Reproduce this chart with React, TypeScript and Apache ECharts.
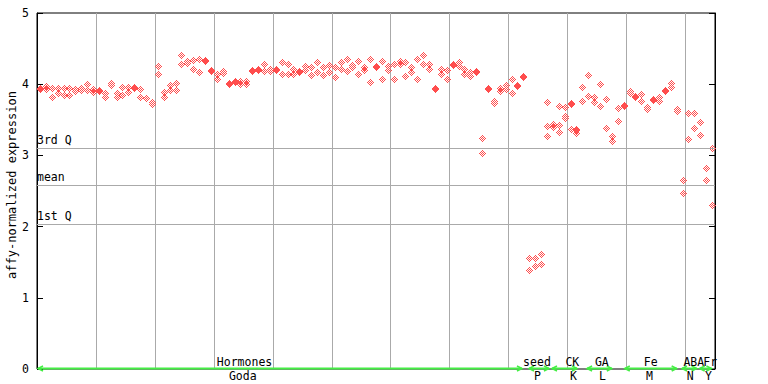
import React, { useEffect, useRef } from 'react';
import * as echarts from 'echarts';

// Experiment groups along the bottom axis
const categoryNames = ['Hormones', 'seed', 'CK', 'GA', 'Fe', 'ABA', 'Fr'];
const categoryCodes = ['Goda', 'P', 'K', 'L', 'M', 'N', 'Y'];
const arrowStart = [0.17, 83.45, 87.35, 93.3, 99.7, 109.4, 112.4];
const arrowEnd = [82.26, 86.84, 91.6, 97.5, 108.5, 111.9, 114.4];
const nameCenter = [35.2, 84.8, 90.8, 95.8, 104.1, 111.4, 114.2];
const codeCenter = [34.9, 84.9, 91.0, 95.9, 103.9, 110.8, 113.9];

// Replicate values per sample, grouped by experiment
const hormones = [
  [3.94, 3.926], [3.98, 3.93], [3.94, 3.82], [3.94, 3.88], [3.94, 3.85],
  [3.94, 3.85], [3.93, 3.90], [3.94, 3.92], [4.00, 3.92], [3.93, 3.89],
  [3.914, 3.90], [3.88, 3.82], [4.02, 3.99], [3.88, 3.82], [3.96, 3.85],
  [3.96, 3.89], [3.96, 3.94], [3.93, 3.82], [3.81, 3.80], [3.75, 3.72],
  [4.25, 4.14], [3.89, 3.82], [3.99, 3.92], [4.01, 3.92], [4.41, 4.28],
  [4.32, 4.30], [4.34, 4.21], [4.36, 4.17], [4.34, 4.32], [4.20, 4.19],
  [4.15, 4.08], [4.19, 4.16], [4.02, 4.006], [4.05, 4.03], [4.05, 4.00],
  [4.05, 4.00], [4.20, 4.186], [4.214, 4.20], [4.28, 4.18], [4.22, 4.18],
  [4.22, 4.20], [4.31, 4.15], [4.29, 4.15], [4.22, 4.15], [4.18, 4.166],
  [4.26, 4.20], [4.24, 4.13], [4.31, 4.17], [4.24, 4.13], [4.27, 4.17],
  [4.24, 4.10], [4.31, 4.21], [4.36, 4.18], [4.27, 4.24], [4.32, 4.14],
  [4.24, 4.20], [4.36, 4.03], [4.25, 4.236], [4.32, 4.07], [4.25, 4.20],
  [4.29, 4.07], [4.33, 4.29], [4.31, 4.11], [4.24, 4.17], [4.36, 4.08],
  [4.41, 4.28], [4.29, 4.21], [3.95, 3.936], [4.22, 4.15], [4.20, 4.08],
  [4.29, 4.27], [4.31, 4.25], [4.21, 4.14], [4.17, 4.11], [4.19, 4.176],
  [3.25, 3.03], [3.95, 3.936], [3.76, 3.73], [3.95, 3.90], [3.99, 3.93],
  [4.08, 3.87], [3.99, 3.976], [4.11, 4.096],
];
const seed = [[1.56, 1.39], [1.56, 1.44], [1.61, 1.47], [3.75, 3.41, 3.27]];
const ck = [[3.44, 3.40], [3.69, 3.42, 3.33], [3.68, 3.56, 3.52], [3.73, 3.716, 3.37], [3.37, 3.356, 3.32], [3.96, 3.77]];
const ga = [[4.13, 3.84], [3.82, 3.75], [4.00, 3.70], [3.79, 3.38], [3.27, 3.20], [3.66, 3.48]];
const fe = [[3.71, 3.70], [3.91, 3.87], [3.83, 3.816], [3.86, 3.77], [3.68, 3.65], [3.79, 3.776], [3.82, 3.77], [3.914, 3.91], [4.01, 3.96], [3.65, 3.62]];
const aba = [[2.65, 2.47], [3.59, 3.23], [3.59, 3.38]];
const fr = [[3.47, 3.28], [2.82, 2.65], [3.10, 2.30]];

const quartileNames = ['3rd Q', 'mean', '1st Q'];
const quartileValues = [3.10, 2.58, 2.03];

const FONT = '"DejaVu Sans Mono", monospace';
const RED = '#ff4d4d';
const GREEN = '#44ee44';

export default function App() {
  const ref = useRef<HTMLDivElement>(null);
  useEffect(() => {
    if (!ref.current) return;
    const chart = echarts.init(ref.current, undefined, { renderer: 'svg' });

    // checkered diamond marker (pixel art)
    const cv = document.createElement('canvas');
    cv.width = 7;
    cv.height = 7;
    const ctx = cv.getContext('2d')!;
    ctx.fillStyle = RED;
    for (let i = 0; i < 7; i++) {
      for (let j = 0; j < 7; j++) {
        const d = Math.abs(i - 3) + Math.abs(j - 3);
        if (d === 1 || d === 3) ctx.fillRect(i, j, 1, 1);
      }
    }
    const markImg = cv.toDataURL();

    const points: number[][] = [];
    let idx = 0;
    [hormones, seed, ck, ga, fe, aba, fr].forEach((group) => {
      group.forEach((vals) => {
        vals.forEach((v) => points.push([idx + 0.5, v]));
        idx++;
      });
    });

    const catData = categoryNames.map((_, i) => [arrowStart[i], 0, arrowEnd[i], nameCenter[i], codeCenter[i]]);

    chart.setOption({
      animation: false,
      grid: { left: 37, right: 53, top: 13, bottom: 15, show: true, borderColor: '#000', borderWidth: 1 },
      xAxis: {
        type: 'value', min: 0, max: 115, interval: 10,
        axisLine: { show: false }, axisTick: { show: false }, axisLabel: { show: false },
        splitLine: { show: true, lineStyle: { color: '#aaaaaa', width: 1 } },
      },
      yAxis: [
        {
          type: 'value', min: 0, max: 5, interval: 1, position: 'left',
          axisLine: { show: true, lineStyle: { color: '#000' } },
          axisTick: { show: true, inside: true, length: 6, lineStyle: { color: '#000' } },
          axisLabel: { color: '#000', fontFamily: FONT, fontSize: 11.5, margin: 8 },
          splitLine: { show: false },
        },
        {
          type: 'value', min: 0, max: 5, interval: 1, position: 'right',
          axisLine: { show: true, lineStyle: { color: '#000' } },
          axisTick: { show: true, inside: true, length: 6, lineStyle: { color: '#000' } },
          axisLabel: { show: false },
          splitLine: { show: false },
        },
      ],
      graphic: [
        {
          type: 'text', x: 12, y: 185, rotation: Math.PI / 2,
          style: { text: 'affy-normalized expression', font: '12px ' + FONT, fill: '#000', align: 'center', verticalAlign: 'middle' },
        },
      ],
      series: [
        {
          type: 'custom',
          data: points,
          encode: { x: 0, y: 1 },
          z: 3,
          silent: true,
          renderItem: (params: any, api: any) => {
            const p = api.coord([api.value(0), api.value(1)]);
            const x = Math.round(p[0]) - 3;
            const y = Math.round(p[1]) - 3;
            return { type: 'image', style: { image: markImg, x, y, width: 7, height: 7 } };
          },
          markLine: {
            silent: true,
            symbol: ['none', 'none'],
            lineStyle: { color: '#aaaaaa', width: 1, type: 'solid' },
            label: {
              show: true, position: 'insideStartTop', formatter: '{b}',
              color: '#000', fontFamily: FONT, fontSize: 11.5, distance: [0, 2],
            },
            data: quartileNames.map((n, i) => ({ name: n, yAxis: quartileValues[i] })),
          },
        },
        {
          type: 'custom',
          data: catData,
          encode: { x: 0, y: 1 },
          clip: false,
          silent: true,
          z: 5,
          renderItem: (params: any, api: any) => {
            const i = params.dataIndex;
            const s = api.coord([api.value(0), 0]);
            const e = api.coord([api.value(2), 0]);
            const n = api.coord([api.value(3), 0]);
            const c = api.coord([api.value(4), 0]);
            const y = s[1] - 0.5;
            return {
              type: 'group',
              children: [
                { type: 'line', shape: { x1: s[0], y1: y, x2: e[0], y2: y }, style: { stroke: GREEN, lineWidth: 2 } },
                { type: 'polyline', shape: { points: [[s[0] + 5, y - 2.5], [s[0], y], [s[0] + 5, y + 2.5]] }, style: { stroke: GREEN, lineWidth: 1.5, fill: null } },
                { type: 'polyline', shape: { points: [[e[0] - 5, y - 2.5], [e[0], y], [e[0] - 5, y + 2.5]] }, style: { stroke: GREEN, lineWidth: 1.5, fill: null } },
                { type: 'text', x: n[0], y: y - 1, style: { text: categoryNames[i], font: '11.5px ' + FONT, fill: '#000', align: 'center', verticalAlign: 'bottom' } },
                { type: 'text', x: c[0], y: y + 1.5, style: { text: categoryCodes[i], font: '11.5px ' + FONT, fill: '#000', align: 'center', verticalAlign: 'top' } },
              ],
            };
          },
        },
      ],
    });
    return () => chart.dispose();
  }, []);
  return <div ref={ref} style={{ position: 'absolute', left: 0, top: 0, width: 768, height: 384 }} />;
}
